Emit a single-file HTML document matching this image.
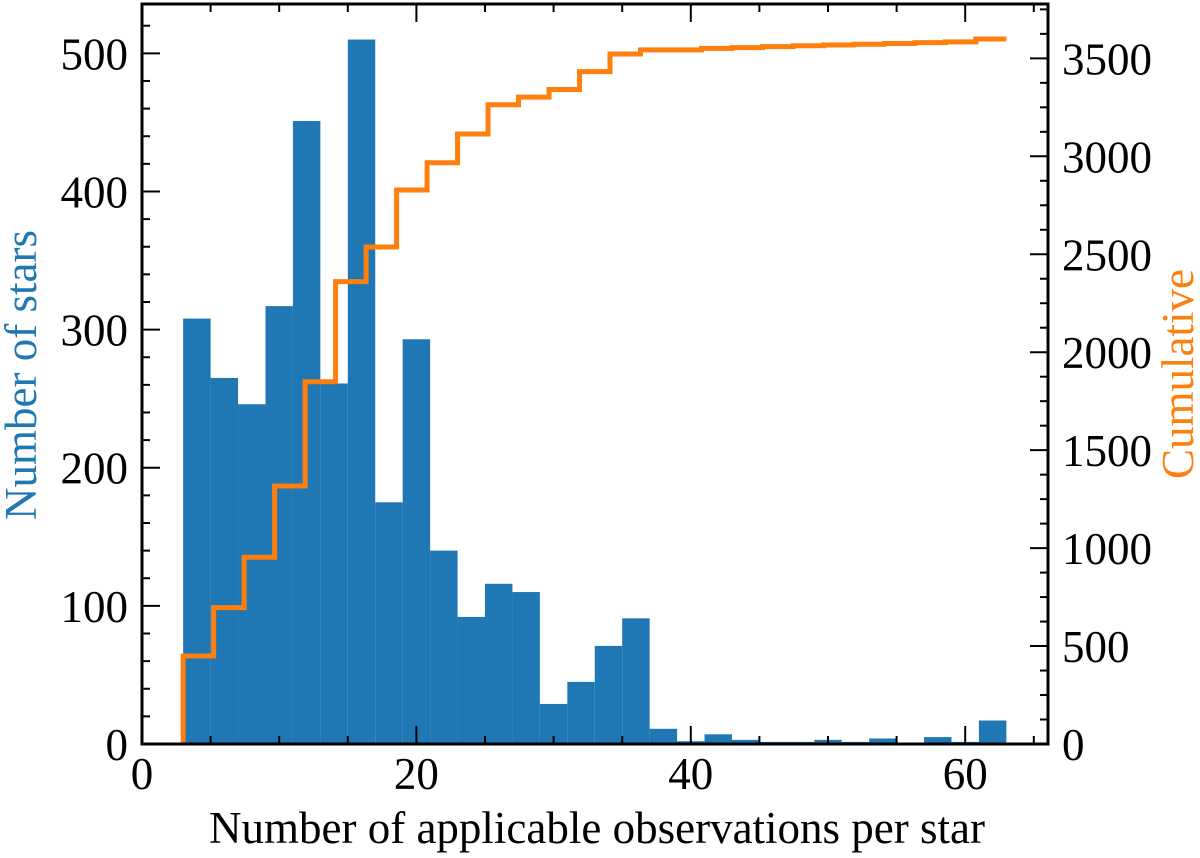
<!DOCTYPE html>
<html><head><meta charset="utf-8"><style>
html,body{margin:0;padding:0;background:#fff;}
svg{display:block;font-family:"Liberation Serif","DejaVu Serif",serif;}
</style></head><body>
<svg id="chart" width="1200" height="858" viewBox="0 0 1200 858" xmlns="http://www.w3.org/2000/svg">
<g id="bars"></g>
<g id="cum"></g>
<g id="axes"></g>
<text x="597" y="843" font-size="45" text-anchor="middle" fill="#000">Number of applicable observations per star</text>
<text transform="translate(36,375) rotate(-90)" font-size="45" text-anchor="middle" fill="#1f77b4">Number of stars</text>
<text transform="translate(1193,374) rotate(-90)" font-size="45" text-anchor="middle" fill="#ff7f0e">Cumulative</text>
</svg>
<script>
const binStart = 3;
const binWidth = 2;
const counts = [308,265,246,317,451,261,510,175,293,140,92,116,110,29,45,71,91,11,2,7,3,1.5,1.5,3,1.5,4,0,5,1.5,17];
const cumStart = 3;
const cumWidth = 2.2222;
const cumValues = [449,696,953,1317,1849,2360,2537,2828,2967,3114,3263,3302,3341,3432,3522,3543,3543,3551,3555,3560,3564,3568,3572,3576,3580,3584,3599];
const xTicks = [0,20,40,60];
const yLeftTicks = [0,100,200,300,400,500];
const yRightTicks = [0,500,1000,1500,2000,2500,3000,3500];

const L=142,R=1048,T=4,B=744;
const xMax=(R-L)/13.72;
const yLMax=(B-T)/1.3813;
const yRMax=(B-T)/0.1959;
const sx=v=>L+(v/xMax)*(R-L);
const syL=v=>B-(v/yLMax)*(B-T);
const syR=v=>B-(v/yRMax)*(B-T);
const NS="http://www.w3.org/2000/svg";
function mk(tag,attrs,parent){const e=document.createElementNS(NS,tag);for(const k in attrs)e.setAttribute(k,attrs[k]);parent.appendChild(e);return e;}

const bars=document.getElementById('bars');
counts.forEach((c,i)=>{
  const x0=sx(binStart+i*binWidth),x1=sx(binStart+(i+1)*binWidth);
  const r=mk('rect',{x:x0,y:syL(c),width:x1-x0,height:B-syL(c),fill:'#1f77b4'},bars);
  
  
});

const cum=document.getElementById('cum');
let d=`M${sx(cumStart)},${B}`;
cumValues.forEach((v,i)=>{
  const x0=sx(cumStart+i*cumWidth),x1=sx(cumStart+(i+1)*cumWidth);
  d+=` L${x0},${syR(v)} L${x1},${syR(v)}`;
});
const p=mk('path',{d:d,fill:'none',stroke:'#ff7f0e','stroke-width':5,'stroke-linejoin':'miter'},cum);



const ax=document.getElementById('axes');
const frame=mk('rect',{x:L,y:T,width:R-L,height:B-T,fill:'none',stroke:'#000','stroke-width':3},ax);


function tick(x1,y1,x2,y2,w){mk('line',{x1,y1,x2,y2,stroke:'#000','stroke-width':w},ax);}
for(let v=0;v<=xMax;v+=5){
  const x=sx(v), major=(v%20===0), len=major?18:8;
  tick(x,B,x,B-len,2); tick(x,T,x,T+len,2);
}
xTicks.forEach(v=>{
  const t=mk('text',{x:sx(v),y:789,'font-size':45,'text-anchor':'middle',fill:'#000'},ax);
  t.textContent=v;
  
  
});
for(let v=0;v<=yLMax;v+=20){
  const y=syL(v), major=(v%100===0), len=major?18:8;
  tick(L,y,L+len,y,2);
}
yLeftTicks.forEach(v=>{
  const t=mk('text',{x:128,y:syL(v)+16,'font-size':45,'text-anchor':'end',fill:'#000'},ax);
  t.textContent=v;
  
  
});
for(let v=0;v<=yRMax;v+=125){
  const y=syR(v), major=(v%500===0), len=major?18:8;
  tick(R,y,R-len,y,2);
}
yRightTicks.forEach(v=>{
  const t=mk('text',{x:1062,y:syR(v)+16,'font-size':45,'text-anchor':'start',fill:'#000'},ax);
  t.textContent=v;
  
  
});
</script>
</body></html>
